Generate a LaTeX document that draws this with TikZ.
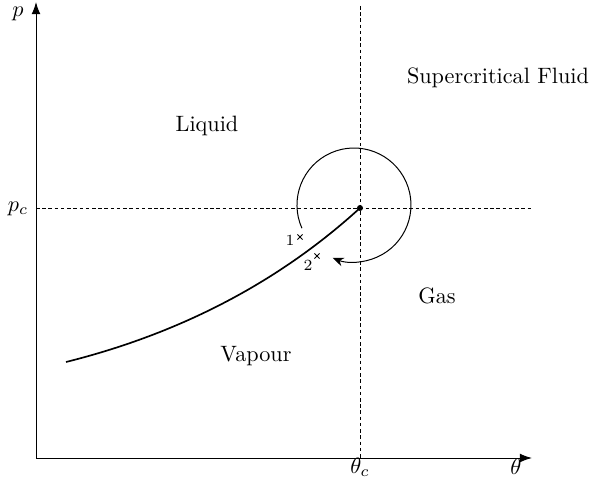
\documentclass[tikz,border=0pt]{standalone}
\usetikzlibrary{arrows.meta}
\begin{document}
\begin{tikzpicture}[x=0.45pt,y=0.45pt,
  axis/.style={line width=0.45pt,-{Latex[length=5.5pt,width=4pt]}},
  guide/.style={dashed,line width=0.4pt,dash pattern=on 1.6pt off 1.2pt},
  lbl/.style={inner sep=0pt,font=\normalsize},
  small/.style={inner sep=0pt,font=\scriptsize},
  crossmark/.style={line width=0.35pt}]
\useasboundingbox (0,0) rectangle (592,481);
\coordinate (O) at (36,23);
\coordinate (ytip) at (36,479);
\coordinate (xtip) at (532,23);
\coordinate (vtop) at (360,475);
\coordinate (vbot) at (360,23);
\coordinate (hleft) at (36,273);
\coordinate (hright) at (531,273);
\coordinate (C) at (360,273);
\coordinate (start) at (66,119);
\draw[guide] (vtop) -- (vbot);
\draw[guide] (hleft) -- (hright);
\draw[axis] (O) -- (ytip);
\draw[axis] (O) -- (xtip);
\draw[line width=0.75pt] (start) .. controls (182,148) and (280,200) .. (C);
\fill (C) circle (3);
\draw[line width=0.45pt,-{Stealth[length=5pt,width=4pt]}] (301.9,252.8) arc[start angle=204,end angle=-112,radius=57];
\coordinate (x1) at (300,244);
\coordinate (x2) at (317,225);
\draw[crossmark] ([shift={(-2.6,-2.6)}]x1) -- ([shift={(2.6,2.6)}]x1);
\draw[crossmark] ([shift={(-2.6,2.6)}]x1) -- ([shift={(2.6,-2.6)}]x1);
\draw[crossmark] ([shift={(-2.6,-2.6)}]x2) -- ([shift={(2.6,2.6)}]x2);
\draw[crossmark] ([shift={(-2.6,2.6)}]x2) -- ([shift={(2.6,-2.6)}]x2);
\node[small] (n1) at (290,241) {1};
\node[small] (n2) at (308,216) {2};
\node[lbl] (p) at (18,467) {$p$};
\node[lbl] (pc) at (18,272) {$p_c$};
\node[lbl] (thc) at (360,14) {$\theta_c$};
\node[lbl] (th) at (516,14) {$\theta$};
\node[lbl] (liq) at (207,355) {Liquid};
\node[lbl] (sf) at (498,403) {Supercritical Fluid};
\node[lbl] (gas) at (437,185) {Gas};
\node[lbl] (vap) at (256,125) {Vapour};
\end{tikzpicture}
\end{document}
